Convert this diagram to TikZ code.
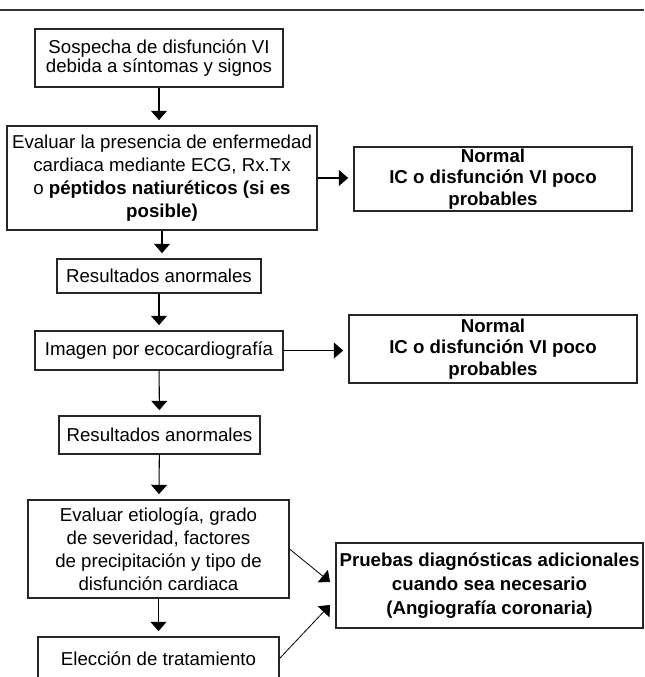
\documentclass[tikz,border=0pt]{standalone}
\usepackage{fontspec}
\setmainfont{Liberation Sans}
\usetikzlibrary{arrows.meta}

\begin{document}
\begin{tikzpicture}[x=0.75pt,y=-0.75pt,
	box/.style={draw=black!85,line width=0.8pt,inner sep=0pt,align=center,font=\fontsize{14}{17.25}\selectfont},
	flow/.style={-{Triangle[width=12pt,length=7pt]},line width=0.8pt,shorten >=4pt}]
	% Frame of the picture
	\useasboundingbox (0,0) rectangle (644,677);
	\clip (0,0) rectangle (644,677);
	
	% Top rule
	\draw[line width=1.2pt,black!80] (0,10) -- (644,10);
	
	% Main column
	\node[box,minimum width=186pt,minimum height=43.5pt,font=\fontsize{14}{14.6}\selectfont] (sospecha) at (159,58) {Sospecha de disfunción VI\\debida a síntomas y signos};
	\node[box,minimum width=232.5pt,minimum height=78pt] (evaluar) at (162,178) {Evaluar la presencia de enfermedad\\cardiaca mediante ECG, Rx.Tx\\o \textbf{péptidos natiuréticos (si es}\\\textbf{posible)}};
	\node[box,minimum width=153pt,minimum height=25.5pt] (anormalA) at (159,276) {Resultados anormales};
	\node[box,minimum width=186pt,minimum height=29.25pt] (imagen) at (159,350.5) {Imagen por ecocardiografía};
	\node[box,minimum width=150.75pt,minimum height=28.5pt] (anormalB) at (159.5,435) {Resultados anormales};
	\node[box,minimum width=195.75pt,minimum height=73.5pt] (etiologia) at (158.5,549) {Evaluar etiología, grado\\de severidad, factores\\de precipitación y tipo de\\disfunción cardiaca};
	\node[box,minimum width=180.75pt,minimum height=32.25pt] (eleccion) at (158.5,658.5) {Elección de tratamiento};
	
	% Side boxes
	\node[box,minimum width=208.5pt,minimum height=48pt,font=\fontsize{14}{16.1}\selectfont\bfseries] (normalA) at (493,179) {Normal\\IC o disfunción VI poco\\probables};
	\node[box,minimum width=216pt,minimum height=51pt,font=\fontsize{14}{16.1}\selectfont\bfseries] (normalB) at (493,349) {Normal\\IC o disfunción VI poco\\probables};
	\node[box,minimum width=230.25pt,minimum height=63.75pt,font=\fontsize{14}{18}\selectfont\bfseries] (pruebas) at (489.5,585.5) {Pruebas diagnósticas adicionales\\cuando sea necesario\\(Angiografía coronaria)};
	\coordinate (pruebasA) at (330,582);
	\coordinate (pruebasB) at (330,605);
	
	% Arrows down the column
	\draw[flow] (sospecha.south) -- (sospecha.south |- evaluar.north);
	\draw[flow] (evaluar.south) -- (evaluar.south |- anormalA.north);
	\draw[flow] (anormalA) -- (imagen);
	\draw[flow] (imagen) -- (anormalB);
	\draw[flow] (anormalB) -- (etiologia);
	\draw[flow] (etiologia) -- (eleccion);
	
	% Arrows to the side
	\draw[flow] (evaluar.east) -- (evaluar.east -| normalA.west);
	\draw[flow] (imagen.east) -- (imagen.east -| normalB.west);
	\draw[flow,line width=0.6pt,shorten >=0pt] (etiologia.east) -- (pruebasA);
	\draw[flow,line width=0.6pt,shorten >=0pt] (eleccion.east) -- (pruebasB);
\end{tikzpicture}
\end{document}
